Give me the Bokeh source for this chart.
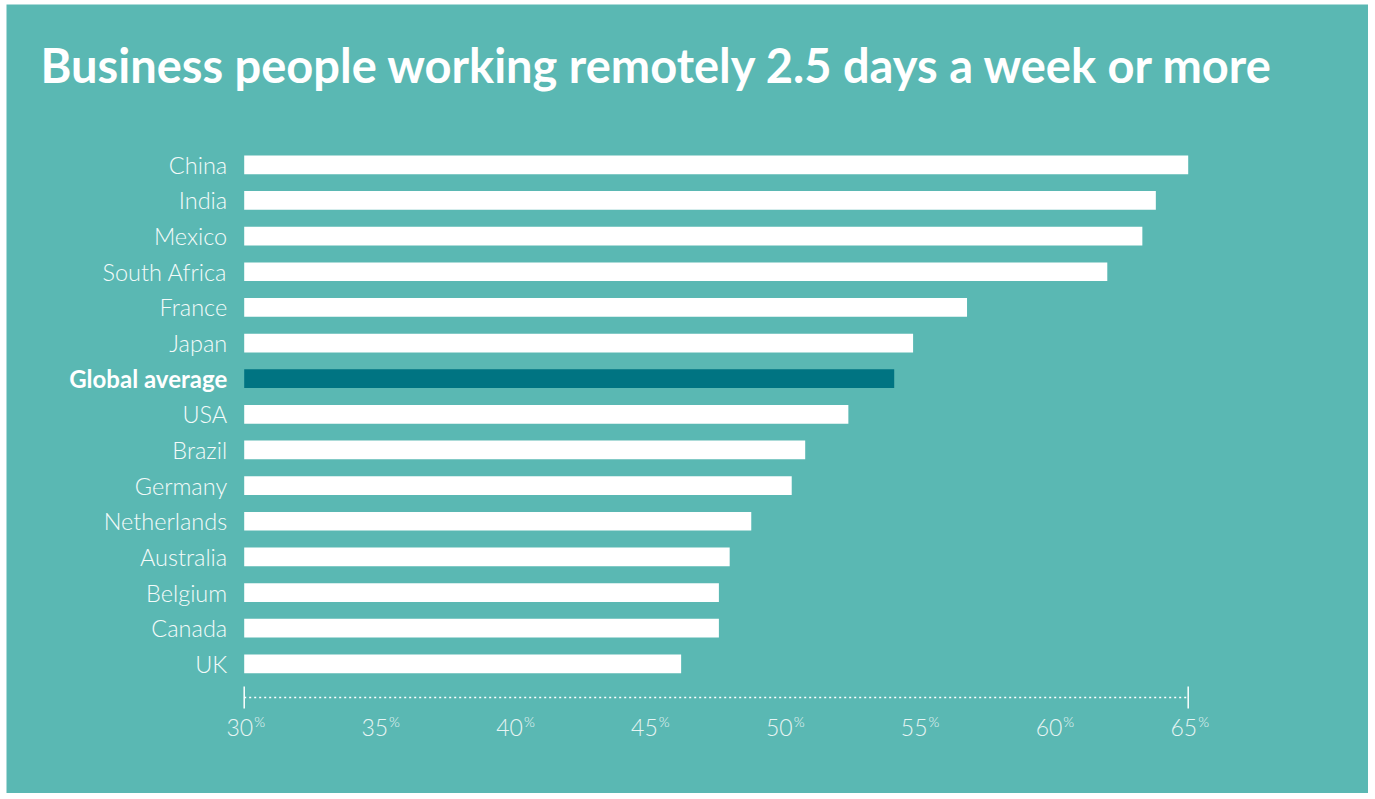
import math
from bokeh.plotting import figure
from bokeh.models import Range1d, Label, ColumnDataSource
from bokeh.core.properties import value
from bokeh.embed import file_html
from bokeh.resources import INLINE

# ---- data ----
title_text = "Business people working remotely 2.5 days a week or more"
countries = ["China", "India", "Mexico", "South Africa", "France", "Japan",
             "Global average", "USA", "Brazil", "Germany", "Netherlands",
             "Australia", "Belgium", "Canada", "UK"]
shares = [65.0, 63.8, 63.3, 62.0, 56.8, 54.8, 54.1, 52.4, 50.8, 50.3, 48.8,
          48.0, 47.6, 47.6, 46.2]
highlight = "Global average"
tick_values = [30, 35, 40, 45, 50, 55, 60, 65]
tick_labels = ["30", "35", "40", "45", "50", "55", "60", "65"]

# ---- style / layout ----
BG = "#5AB8B3"
DARK = "#007482"
TICK_COLOR = "#E8F5F4"
LIGHT_FONT = "Lato Light, Lato"
BOLD_FONT = "Lato"
W, H = 1362, 789
PX_X = 944 / 35.0          # pixels per percentage point
PX_Y = 35.64               # pixels per row
LEFT_PX = 237.7            # pixel of axis start inside the figure
UK_PX = 659.3              # pixel (from top) of the last row
AXIS_Y = -0.946            # axis line level, in row units

x0 = tick_values[0] - LEFT_PX / PX_X
x1 = x0 + W / PX_X
y_top = UK_PX / PX_Y
y_bot = y_top - H / PX_Y

n = len(countries)
ypos = [n - 1 - i for i in range(n)]
colors = [DARK if c == highlight else "#FFFFFF" for c in countries]

p = figure(width=W, height=H,
           x_range=Range1d(x0, x1), y_range=Range1d(y_bot, y_top),
           output_backend="svg", toolbar_location=None,
           x_axis_location=None, y_axis_location=None,
           min_border=0,
           background_fill_color=BG, border_fill_color=BG)
p.outline_line_color = None
p.grid.visible = False
p.margin = (4, 0, 0, 6)

src = ColumnDataSource(dict(y=ypos, right=shares, color=colors, name=countries))
p.hbar(y="y", left=tick_values[0], right="right", height=0.525,
       fill_color="color", line_color=None, source=src)

# category labels
norm = [(y, c) for y, c in zip(ypos, countries) if c != highlight]
p.text(x=[tick_values[0]] * len(norm), y=[a for a, _ in norm], text=[b for _, b in norm],
       x_offset=-17, text_align="right", text_baseline="middle",
       text_font=value(LIGHT_FONT), text_font_size="23.5px", text_color="#F4FBFA")
hi = countries.index(highlight)
p.text(x=[tick_values[0]], y=[ypos[hi]], text=[highlight],
       x_offset=-17, text_align="right", text_baseline="middle",
       text_font=value(BOLD_FONT), text_font_style="bold",
       text_font_size="24px", text_color="#FFFFFF")

# x axis: dotted line, end ticks, labels
p.segment(x0=[tick_values[0]], x1=[tick_values[-1]], y0=[AXIS_Y], y1=[AXIS_Y],
          line_color="#FFFFFF", line_width=1.5, line_dash="2 3")
p.scatter(x=[tick_values[0], tick_values[-1]], y=[AXIS_Y, AXIS_Y], marker="dash",
          angle=math.pi / 2, size=22, line_color="#FFFFFF", line_width=1.5)
p.text(x=tick_values, y=[AXIS_Y] * len(tick_values), text=tick_labels,
       x_offset=9, y_offset=30, text_align="right", text_baseline="middle",
       text_font=value(LIGHT_FONT), text_font_size="23px", text_color=TICK_COLOR)
p.text(x=tick_values, y=[AXIS_Y] * len(tick_values), text=["%"] * len(tick_values),
       x_offset=10, y_offset=24, text_align="left", text_baseline="middle",
       text_font=value(LIGHT_FONT), text_font_size="14px", text_color=TICK_COLOR)

# title
p.add_layout(Label(x=34, y=H - 60, x_units="screen", y_units="screen",
                   text=title_text, text_align="left", text_baseline="middle",
                   text_font=BOLD_FONT, text_font_style="bold",
                   text_font_size="47px", text_color="#FFFFFF"))

open("out.html", "w").write(file_html(p, INLINE))
